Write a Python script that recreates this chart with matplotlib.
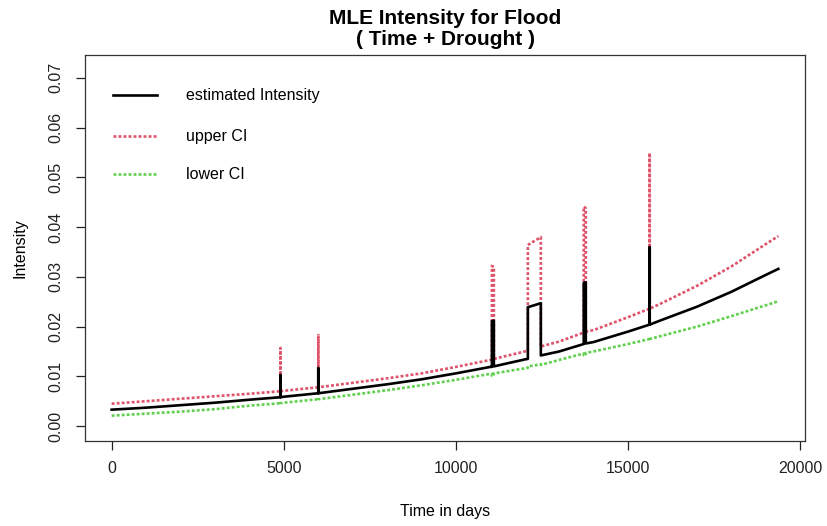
import matplotlib
matplotlib.use("Agg")
import matplotlib.pyplot as plt
from matplotlib.lines import Line2D

plt.rcParams['font.family'] = ['Liberation Sans', 'DejaVu Sans']

title = "MLE Intensity for Flood\n( Time + Drought )"
x_label = "Time in days"
y_label = "Intensity"
legend_labels = ["estimated Intensity", "upper CI", "lower CI"]
x_ticks = [0, 5000, 10000, 15000, 20000]
y_ticks = [0.00, 0.01, 0.02, 0.03, 0.04, 0.05, 0.06, 0.07]

time = [0, 1000, 2000, 3000, 4000, 4900, 4900, 4904, 4904, 5000,
        6000, 6000, 6004, 6004, 7000, 8000, 9000, 10000, 11000,
        11043, 11043, 11100, 11100, 12000, 12087, 12087, 12464, 12464,
        13000, 13710, 13710, 13770, 13770, 14000, 15000,
        15623, 15623, 15627, 15627, 16000, 17000, 18000, 19000, 19362]

estimated = [0.0033, 0.0037, 0.0042, 0.0047, 0.0053, 0.0058, 0.0103, 0.0103, 0.0058, 0.0059,
             0.0066, 0.0117, 0.0117, 0.0066, 0.0075, 0.0084, 0.0094, 0.0106, 0.0119,
             0.0119, 0.0211, 0.0212, 0.0120, 0.0134, 0.0135, 0.0239, 0.0247, 0.0142,
             0.0150, 0.0165, 0.0288, 0.0289, 0.0166, 0.0169, 0.0190,
             0.0204, 0.0360, 0.0360, 0.0204, 0.0214, 0.0240, 0.0270, 0.0304, 0.0316]

upper = [0.0045, 0.0050, 0.0055, 0.0060, 0.0065, 0.0070, 0.0157, 0.0157, 0.0070, 0.0071,
         0.0078, 0.0183, 0.0183, 0.0078, 0.0087, 0.0096, 0.0106, 0.0119, 0.0133,
         0.0134, 0.0322, 0.0320, 0.0135, 0.0150, 0.0152, 0.0364, 0.0380, 0.0160,
         0.0170, 0.0188, 0.0441, 0.0438, 0.0190, 0.0193, 0.0219,
         0.0236, 0.0549, 0.0549, 0.0236, 0.0248, 0.0282, 0.0321, 0.0366, 0.0382]

lower = [0.0021, 0.0025, 0.0029, 0.0034, 0.0041, 0.0046, 0.0044, 0.0044, 0.0046, 0.0047,
         0.0054, 0.0052, 0.0052, 0.0054, 0.0063, 0.0072, 0.0082, 0.0093, 0.0105,
         0.0105, 0.0101, 0.0101, 0.0106, 0.0116, 0.0117, 0.0120, 0.0124, 0.0123,
         0.0133, 0.0146, 0.0142, 0.0142, 0.0147, 0.0150, 0.0165,
         0.0175, 0.0172, 0.0172, 0.0175, 0.0182, 0.0200, 0.0221, 0.0243, 0.0251]

RED = "#DF536B"
GREEN = "#61D04F"
DOT = (0, (1.1, 0.8))

W, H = 827, 526
fig = plt.figure(figsize=(W / 100, H / 100), dpi=100)
L, R, T, B = 85, 805, 55, 441
ax = fig.add_axes([L / W, 1 - B / H, (R - L) / W, (B - T) / H])

ax.plot(time, upper, color=RED, lw=1.9, ls=DOT)
ax.plot(time, lower, color=GREEN, lw=1.9, ls=DOT)
ax.plot(time, estimated, color="black", lw=1.9)

ax.set_xlim(-774, 20136)
ax.set_ylim(-0.0030, 0.0746)
ax.set_xticks(x_ticks)
ax.set_yticks(y_ticks)
ax.set_xticklabels([str(v) for v in x_ticks])
ax.set_yticklabels([f"{v:.2f}" for v in y_ticks], rotation=90, va="center")
ax.tick_params(axis="both", direction="out", length=6.5, width=0.9, labelsize=11.5,
               colors="#222222")
ax.tick_params(axis="x", pad=8)
ax.tick_params(axis="y", pad=9)
for s in ax.spines.values():
    s.set_linewidth(0.9)
    s.set_color("#333333")

ax.set_xlabel(x_label, fontsize=11.5, labelpad=20)
ax.set_ylabel(y_label, fontsize=11.5, labelpad=15)
ax.set_title(title, fontsize=15, fontweight="bold", pad=7, linespacing=1.12)

# legend (no box), positioned as in reference
def ax_x(px):
    return (px - L) / (R - L)

def ax_y(py):
    return (B - py) / (B - T)

rows = [95, 136, 174]
styles = [dict(color="black", lw=1.9), dict(color=RED, lw=1.9, ls=DOT),
          dict(color=GREEN, lw=1.9, ls=DOT)]
for py, st, lab in zip(rows, styles, legend_labels):
    ax.add_line(Line2D([ax_x(113), ax_x(157)], [ax_y(py), ax_y(py)],
                       transform=ax.transAxes, **st))
    ax.text(ax_x(186), ax_y(py), lab, transform=ax.transAxes, va="center",
            ha="left", fontsize=11.5)

fig.savefig("out.png", dpi=100)
